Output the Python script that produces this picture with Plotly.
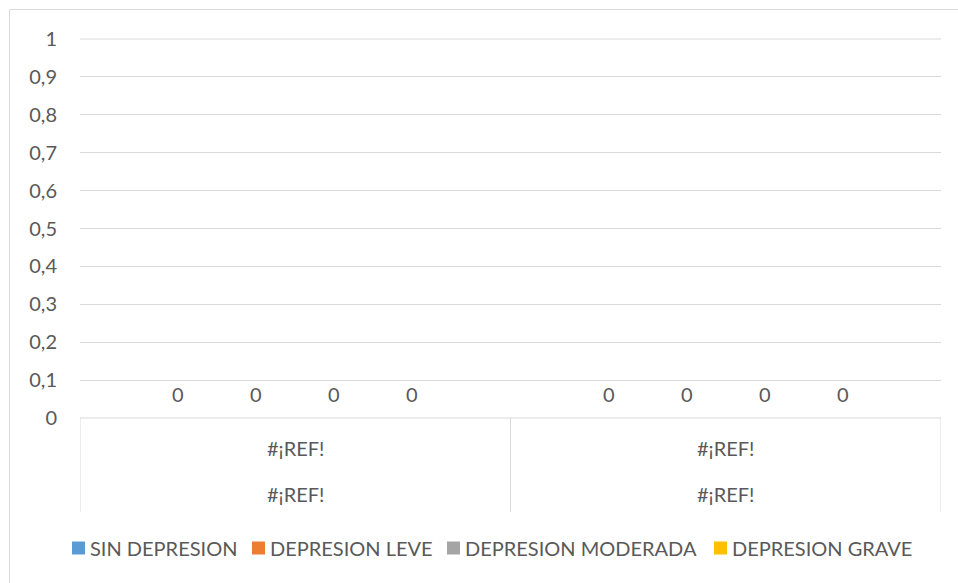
import plotly.graph_objects as go

# Chart data
groups = [0, 1]
group_labels_top = ["#¡REF!", "#¡REF!"]
group_labels_bottom = ["#¡REF!", "#¡REF!"]
series_names = ["SIN DEPRESION", "DEPRESION LEVE", "DEPRESION MODERADA", "DEPRESION GRAVE"]
series_colors = ["#5B9BD5", "#ED7D31", "#A5A5A5", "#FFC000"]
sin_depresion = [0, 0]
depresion_leve = [0, 0]
depresion_moderada = [0, 0]
depresion_grave = [0, 0]
y_ticks = [0, 0.1, 0.2, 0.3, 0.4, 0.5, 0.6, 0.7, 0.8, 0.9, 1]

series_values = [sin_depresion, depresion_leve, depresion_moderada, depresion_grave]

FONT = "Lato"
FS = 20
TEXT = "#595959"
GRID = "#D9D9D9"
W, H = 958, 583
L, R, T, B = 80, 17, 39, 165
plot_w = W - L - R
plot_h = H - T - B
bargap = 0.275
bar_w = (1 - bargap) / len(series_names)


def px_x(p):
    return (p - L) / plot_w


def px_y(p):
    return (H - B - p) / plot_h


fig = go.Figure()
for name, color, vals in zip(series_names, series_colors, series_values):
    fig.add_trace(go.Bar(x=groups, y=vals, name=name, marker_color=color,
                         marker_line_width=0, showlegend=False))

annotations = []
# data labels above each (zero-height) bar
for i, vals in enumerate(series_values):
    off = (i - (len(series_names) - 1) / 2) * bar_w
    for g, v in zip(groups, vals):
        annotations.append(dict(x=g + off, y=v, xref="x", yref="y", text=f"{v:g}".replace(".", ","),
                                showarrow=False, yanchor="middle", yshift=24,
                                font=dict(family=FONT, size=FS, color=TEXT)))
# two-level category labels
for g, top, bot in zip(groups, group_labels_top, group_labels_bottom):
    annotations.append(dict(x=g, y=0, xref="x", yref="paper", text=top, showarrow=False,
                            yanchor="middle", yshift=-30, font=dict(family=FONT, size=FS, color=TEXT)))
    annotations.append(dict(x=g, y=0, xref="x", yref="paper", text=bot, showarrow=False,
                            yanchor="middle", yshift=-76, font=dict(family=FONT, size=FS, color=TEXT)))

shapes = [
    # outer chart border
    dict(type="rect", xref="paper", yref="paper", x0=px_x(9.5), x1=px_x(W + 20), y0=px_y(H + 20),
         y1=px_y(9.5), line=dict(color="#D9D9D9", width=1), layer="below"),
    # category axis line
    dict(type="line", xref="paper", yref="paper", x0=0, x1=1, y0=0, y1=0,
         line=dict(color=GRID, width=1)),
    # gridline at the top of the value range
    dict(type="line", xref="paper", yref="paper", x0=0, x1=1, y0=1, y1=1,
         line=dict(color=GRID, width=1)),
]
for xv in [-0.5, 0.5, 1.5]:
    shapes.append(dict(type="line", xref="x", yref="paper", x0=xv, x1=xv, y0=0, y1=px_y(512),
                       line=dict(color=GRID, width=1)))

# legend: colour squares followed by series names
legend_marker_x = [72, 252, 447, 714]
legend_y = 548
for name, color, mx in zip(series_names, series_colors, legend_marker_x):
    shapes.append(dict(type="rect", xref="paper", yref="paper",
                       x0=px_x(mx), x1=px_x(mx + 13), y0=px_y(legend_y + 6.5), y1=px_y(legend_y - 6.5),
                       fillcolor=color, line=dict(width=0)))
    annotations.append(dict(x=px_x(mx + 16), y=px_y(legend_y), xref="paper", yref="paper", text=name,
                            showarrow=False, xanchor="left", yanchor="middle",
                            font=dict(family=FONT, size=FS, color=TEXT)))

fig.update_layout(
    width=W, height=H,
    margin=dict(l=L, r=R, t=T, b=B, autoexpand=False),
    paper_bgcolor="white", plot_bgcolor="white",
    separators=",.",
    barmode="group", bargap=bargap, bargroupgap=0,
    showlegend=False,
    font=dict(family=FONT, size=FS, color=TEXT),
    xaxis=dict(range=[-0.5, 1.5], showticklabels=False, showgrid=False, zeroline=False,
               showline=False, fixedrange=True),
    yaxis=dict(range=[0, 1], tickvals=y_ticks, showgrid=True, gridcolor=GRID, gridwidth=1,
               zeroline=False, showline=False, ticks="", ticklabelstandoff=22,
               tickfont=dict(family=FONT, size=FS, color=TEXT)),
    annotations=annotations,
    shapes=shapes,
)

fig.write_html("out.html")
